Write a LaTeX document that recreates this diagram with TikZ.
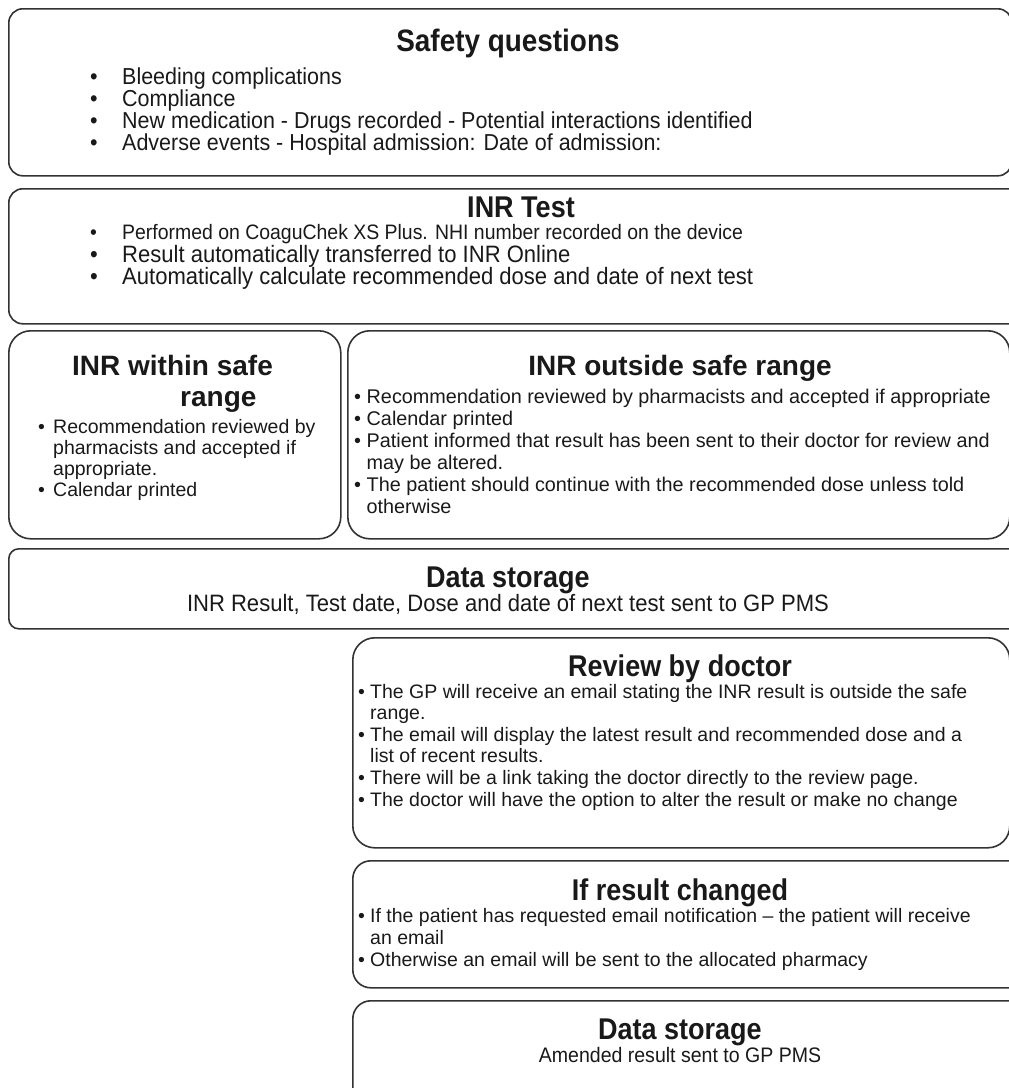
\documentclass[tikz,border=0pt]{standalone}
\usepackage{fontspec}
\setmainfont{Liberation Sans}
\newfontfamily\condsans[FakeStretch=0.9]{Liberation Sans}
\newfontfamily\semisans[FakeStretch=0.93]{Liberation Sans}
% font size with a fixed line pitch, even when glyphs are taller than the pitch
\newcommand{\fsz}[2]{\fontsize{#1}{#2}\selectfont\lineskiplimit=-100pt\lineskip=0pt\relax}
\newcommand{\bl}[1]{\makebox[#1][l]{\textbullet}}
\newcommand{\hang}[1]{\hspace*{#1}}

\tikzset{
  panel/.style={draw=black!80, line width=1.6pt, inner sep=0pt, anchor=north west},
  head/.style={font=\condsans\bfseries\fsz{30}{31}, anchor=base, inner sep=0pt, text=black!90},
  body/.style={anchor=base west, inner sep=0pt, text=black!90, align=left},
}

\begin{document}
\begin{tikzpicture}[x=1pt,y=-1pt]
  \useasboundingbox (0,0) rectangle (1009,1088);
  \clip (0,0) rectangle (1009,1088);

  % ---- outlines ----
  \node[panel, rounded corners=14pt, minimum width=1003pt, minimum height=167pt] (safety) at (8,8) {};
  \node[panel, rounded corners=14pt, minimum width=1030pt, minimum height=135pt] (inrtest) at (8,188) {};
  \node[panel, rounded corners=22pt, minimum width=332pt, minimum height=208pt] (within) at (8,330) {};
  \node[panel, rounded corners=22pt, minimum width=662pt, minimum height=208pt] (outside) at (347,330) {};
  \node[panel, rounded corners=10pt, minimum width=1030pt, minimum height=80pt] (store1) at (8,548) {};
  \node[panel, rounded corners=22pt, minimum width=657pt, minimum height=210pt] (review) at (352,637) {};
  \node[panel, rounded corners=18pt, minimum width=680pt, minimum height=127pt] (changed) at (352,860) {};
  \node[panel, rounded corners=18pt, minimum width=680pt, minimum height=140pt] (store2) at (352,1000) {};

  % ---- Safety questions ----
  \node[head, font=\condsans\bfseries\fsz{31}{31}] (safety-h) at (508,51) {Safety questions};
  \node[body, font=\semisans\fsz{23.1}{22}] (safety-b) at (90,150) {%
    \bl{32pt}Bleeding complications\\
    \bl{32pt}Compliance\\
    \bl{32pt}New medication - Drugs recorded - Potential interactions identified\\
    \bl{32pt}Adverse events - Hospital admission: Date of admission:};

  % ---- INR Test ----
  \node[head] (inrtest-h) at (521,217) {INR Test};
  \node[body, font=\semisans\fsz{20.9}{22}] (inrtest-b1) at (90,239) {\bl{32pt}Performed on CoaguChek XS Plus. NHI number recorded on the device};
  \node[body, font=\semisans\fsz{23.7}{22}] (inrtest-b2) at (90,284) {%
    \bl{32pt}Result automatically transferred to INR Online\\
    \bl{32pt}Automatically calculate recommended dose and date of next test};

  % ---- INR within safe range ----
  \node[body, font=\bfseries\fsz{28}{31}] (within-h) at (72,406) {INR within safe\\\hang{108pt}range};
  \node[body, font=\fsz{19.5}{21}] (within-b) at (38,496) {%
    \bl{15pt}Recommendation reviewed by\\
    \hang{15pt}pharmacists and accepted if\\
    \hang{15pt}appropriate.\\
    \bl{15pt}Calendar printed};

  % ---- INR outside safe range ----
  \node[head, font=\bfseries\fsz{28}{31}] (outside-h) at (680,375) {INR outside safe range};
  \node[body, font=\fsz{19.8}{22}] (outside-b) at (354,513) {%
    \bl{12.5pt}Recommendation reviewed by pharmacists and accepted if appropriate\\
    \bl{12.5pt}Calendar printed\\
    \bl{12.5pt}Patient informed that result has been sent to their doctor for review and\\
    \hang{12.5pt}may be altered.\\
    \bl{12.5pt}The patient should continue with the recommended dose unless told\\
    \hang{12.5pt}otherwise};

  % ---- Data storage (first) ----
  \node[head] (store1-h) at (508,587) {Data storage};
  \node[head, font=\semisans\fsz{23.7}{24}] (store1-b) at (508,611) {INR Result, Test date, Dose and date of next test sent to GP PMS};

  % ---- Review by doctor ----
  \node[head] (review-h) at (680,676) {Review by doctor};
  \node[body, font=\fsz{19.5}{21.6}] (review-b) at (358,806) {%
    \bl{12pt}The GP will receive an email stating the INR result is outside the safe\\
    \hang{12pt}range.\\
    \bl{12pt}The email will display the latest result and recommended dose and a\\
    \hang{12pt}list of recent results.\\
    \bl{12pt}There will be a link taking the doctor directly to the review page.\\
    \bl{12pt}The doctor will have the option to alter the result or make no change};

  % ---- If result changed ----
  \node[head] (changed-h) at (680,900) {If result changed};
  \node[body, font=\fsz{19.5}{21.6}] (changed-b) at (358,966) {%
    \bl{12pt}If the patient has requested email notification -- the patient will receive\\
    \hang{12pt}an email\\
    \bl{12pt}Otherwise an email will be sent to the allocated pharmacy};

  % ---- Data storage (second) ----
  \node[head] (store2-h) at (680,1039) {Data storage};
  \node[head, font=\semisans\fsz{21}{22}] (store2-b) at (680,1062) {Amended result sent to GP PMS};
\end{tikzpicture}
\end{document}
